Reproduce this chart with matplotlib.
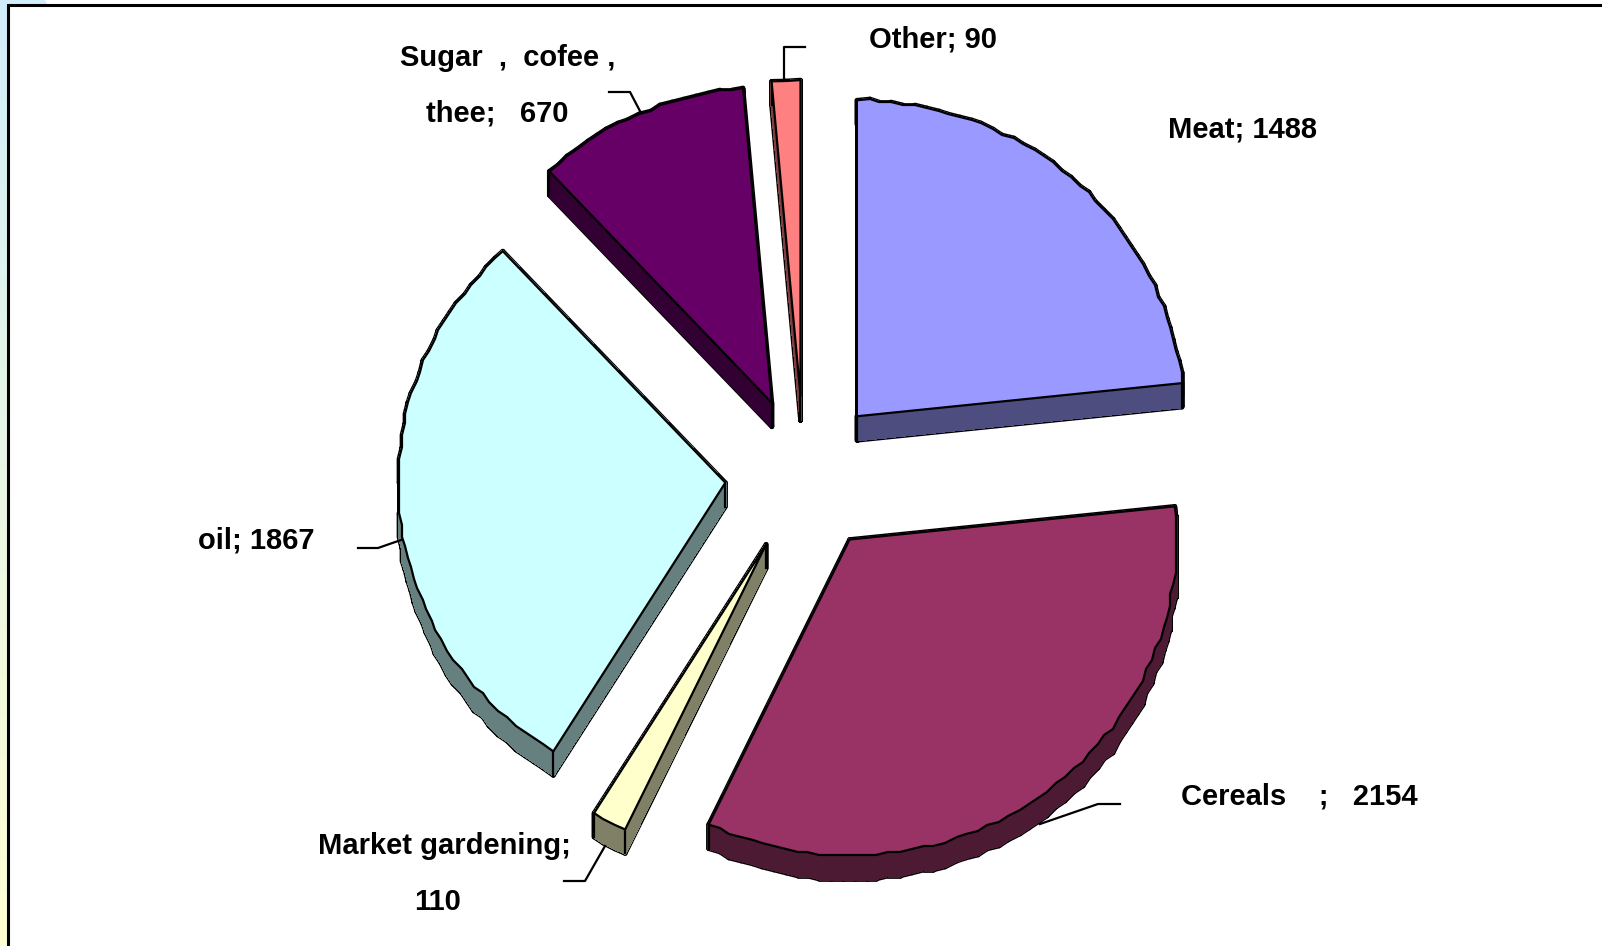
import numpy as np
from matplotlib import pyplot as plt
from matplotlib.path import Path
from matplotlib.patches import Polygon, Rectangle

categories = ['Meat', 'Cereals', 'Market gardening', 'oil', 'Sugar, cofee, thee', 'Other']
values = [1488, 2154, 110, 1867, 670, 90]
top_colors = ['#9999FF', '#993366', '#FFFFCC', '#CCFFFF', '#660066', '#FF8080']
side_colors = ['#4D4D80', '#4D1A33', '#808066', '#668080', '#330033', '#804040']

label_texts = ['Other; 90', 'Meat; 1488', 'Sugar  ,  cofee ,', 'thee;   670', 'oil; 1867',
               'Cereals    ;   2154', 'Market gardening;', '110']
label_x = [869, 1168, 400, 426, 198, 1181, 318, 414]
label_y = [48, 138, 66, 121, 548, 804, 854, 910]

leader_lines = [
    ([805, 784, 784], [47, 47, 78]),
    ([609, 630, 641], [92, 92, 113]),
    ([358, 378, 401], [548, 548, 540]),
    ([1120, 1098, 1040], [804, 804, 824]),
    ([564, 585, 605], [881, 881, 846]),
]

CX, CY = 804, 475
RX, RY = 327, 316
EXPLODE = 79
DEPTH = 24
STEP = 3


def wedge_points(start, end, mid):
    ox = CX + EXPLODE * np.cos(mid)
    oy = CY - EXPLODE * np.sin(mid)
    n = max(2, int(abs(end - start) / np.radians(2)))
    t = np.linspace(start, end, n + 1)
    x = ox + RX * np.cos(t)
    y = oy - RY * np.sin(t)
    # the source picture has stepped arcs, snap the inner points to a grid
    x[1:-1] = np.round(x[1:-1] / STEP) * STEP
    y[1:-1] = np.round(y[1:-1] / STEP) * STEP
    return np.column_stack([np.r_[ox, x], np.r_[oy, y]])


def draw_wedge(ax, pts, top, side, zorder):
    closed = np.vstack([pts, pts[0]])
    quads = []
    for a, b in zip(closed[:-1], closed[1:]):
        quads.append([a, b, b + [0, DEPTH], a + [0, DEPTH]])
    for q in quads:
        ax.add_patch(Polygon(q, closed=True, fc='black', ec='black', lw=3.4, zorder=zorder, joinstyle='round'))
    for q in quads:
        ax.add_patch(Polygon(q, closed=True, fc=side, ec=side, lw=1, zorder=zorder + 0.1, antialiased=False))
    shape = Path(closed)
    for p in [pts[0], pts[1], pts[-1]]:
        if not shape.contains_point(p + [0, 4]):
            ax.plot([p[0], p[0]], [p[1], p[1] + DEPTH], color='black', lw=1.6, zorder=zorder + 0.2)
    ax.add_patch(Polygon(pts, closed=True, fc=top, ec='black', lw=1.6, zorder=zorder + 0.3, joinstyle='round'))


fig = plt.figure(figsize=(16.02, 9.46), dpi=100)
ax = fig.add_axes([0, 0, 1, 1])
ax.set_xlim(0, 1602)
ax.set_ylim(946, 0)
ax.axis('off')

# slide background peeking out on the left
blue = np.array([0.82, 0.93, 0.98])
yellow = np.array([1.0, 1.0, 0.82])
grad = np.linspace(0, 1, 256)[:, None, None] * (yellow - blue)[None, None, :] + blue[None, None, :]
ax.imshow(grad, extent=[0, 8, 946, 0], aspect='auto', zorder=0)
ax.set_xlim(0, 1602)
ax.set_ylim(946, 0)
ax.add_patch(Polygon([[0, 0], [45, 0], [48, 6], [0, 6]], closed=True, fc=blue, ec='none', zorder=0))
ax.add_patch(Rectangle((7.5, 5.5), 1700, 1000, fc='white', ec='black', lw=2.2, zorder=1))

total = sum(values)
edges = np.pi / 2 - np.r_[0, np.cumsum(values)] / total * 2 * np.pi

wedges = []
for i in range(len(values)):
    mid = (edges[i] + edges[i + 1]) / 2
    wedges.append(wedge_points(edges[i], edges[i + 1], mid))

for i, pts in enumerate(wedges):
    draw_wedge(ax, pts, top_colors[i], side_colors[i], 2 + i)

for xs, ys in leader_lines:
    ax.plot(xs, ys, color='black', lw=1.6, zorder=10)

for t, x, y in zip(label_texts, label_x, label_y):
    ax.text(x, y, t, family='Liberation Sans', weight='bold', fontsize=21, color='black', ha='left', va='baseline', zorder=11)

fig.savefig('out.png', dpi=100)
